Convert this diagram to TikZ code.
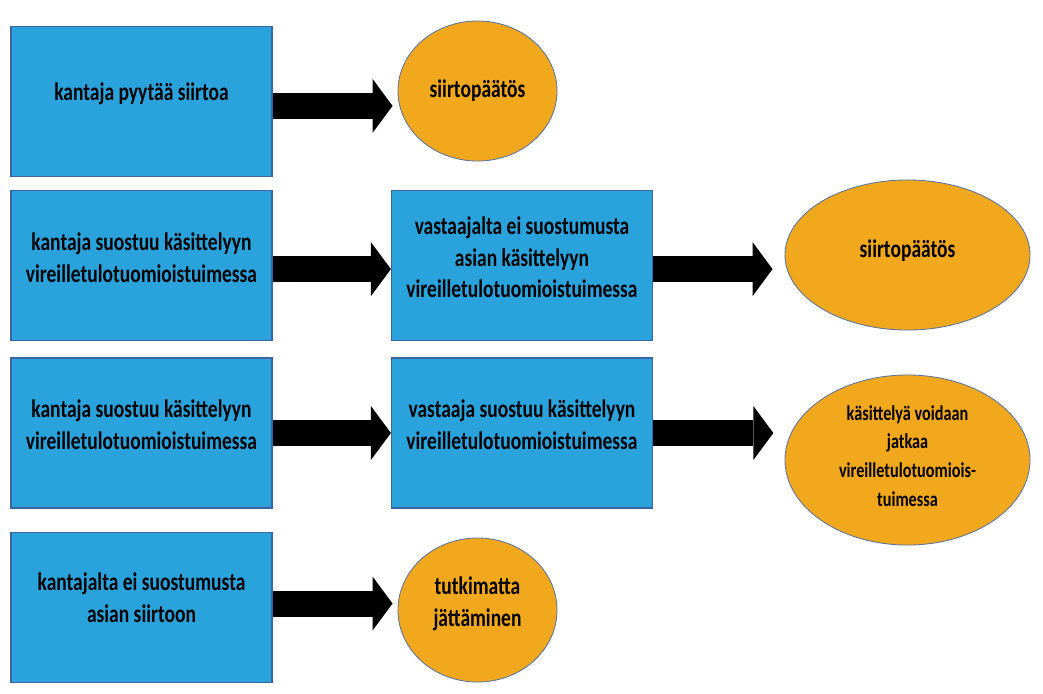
\documentclass[tikz,border=0pt]{standalone}
\usepackage{fontspec}
\newfontfamily\cf{Carlito}[FakeStretch=0.77]
\usetikzlibrary{shapes.geometric,arrows.meta}
\definecolor{boxblue}{RGB}{42,163,220}
\definecolor{boxborder}{RGB}{60,100,160}
\definecolor{ellorange}{RGB}{242,168,28}
\definecolor{ellborder}{RGB}{90,115,160}
\begin{document}
\begin{tikzpicture}[x=0.025cm,y=-0.025cm,
  blk/.style={draw=boxborder, line width=0.8pt, fill=boxblue, minimum width=6.525cm, minimum height=3.75cm, inner sep=0pt},
  ell/.style={ellipse, draw=ellborder, line width=0.6pt, fill=ellorange, inner sep=0pt},
  txt/.style={align=center, font=\cf\bfseries\fontsize{18}{22.5}\selectfont, text=black},
  stxt/.style={align=center, font=\cf\bfseries\fontsize{15}{20.5}\selectfont, text=black},
  conn/.style={line width=0.65cm, -{Triangle[length=0.5cm, width=1.35cm, line width=0pt]}}
]
\useasboundingbox (0,0) rectangle (1043,693);
% row 1
\node[blk] (b1) at (141.5,101.5) {};
\node[ell, minimum width=3.975cm, minimum height=3.5cm] (e1) at (477.5,91) {};
% row 2
\node[blk] (b2) at (141.5,265.5) {};
\node[blk] (m2) at (522,265.5) {};
\node[ell, minimum width=6.125cm, minimum height=3.75cm] (e2) at (907.5,255) {};
% row 3
\node[blk] (b3) at (141.5,433) {};
\node[blk] (m3) at (522,433) {};
\node[ell, minimum width=6.125cm, minimum height=4.25cm] (e3) at (907.5,460) {};
% row 4
\node[blk] (b4) at (141.5,607.5) {};
\node[ell, minimum width=3.975cm, minimum height=3.6cm] (e4) at (477.5,610) {};
% texts
\node[txt] (tb1) at ([yshift=0.2cm]b1.center) {kantaja pyytää siirtoa};
\node[txt] (te1) at (e1.center) {siirtopäätös};
\node[txt] (tb2) at ([yshift=0.2cm]b2.center) {kantaja suostuu käsittelyyn\\vireilletulotuomioistuimessa};
\node[txt] (tm2) at ([yshift=0.2cm]m2.center) {vastaajalta ei suostumusta\\asian käsittelyyn\\vireilletulotuomioistuimessa};
\node[txt] (te2) at ([yshift=0.1cm]e2.center) {siirtopäätös};
\node[txt] (tb3) at ([yshift=0.2cm]b3.center) {kantaja suostuu käsittelyyn\\vireilletulotuomioistuimessa};
\node[txt] (tm3) at ([yshift=0.2cm]m3.center) {vastaaja suostuu käsittelyyn\\vireilletulotuomioistuimessa};
\node[stxt] (te3) at ([yshift=0.1cm]e3.center) {käsittelyä voidaan\\jatkaa\\vireilletulotuomiois-\\tuimessa};
\node[txt] (tb4) at ([yshift=0.25cm]b4.center) {kantajalta ei suostumusta\\asian siirtoon};
\node[txt] (te4) at ([yshift=0.15cm]e4.center) {tutkimatta\\jättäminen};
% connectors
\draw[conn, shorten >=0.125cm] ([yshift=-0.11cm]b1.east) -- ([yshift=-0.11cm]b1.east -| e1.west);
\draw[conn] ([yshift=-0.09cm]b2.east) -- ([yshift=-0.09cm]m2.west);
\draw[conn, shorten >=0.3cm] ([yshift=-0.09cm]m2.east) -- ([yshift=-0.09cm]m2.east -| e2.west);
\draw[conn] (b3.east) -- (m3.west);
\draw[conn, shorten >=0.28cm] (m3.east) -- (m3.east -| e3.west);
\draw[conn, shorten >=0.125cm] ([yshift=0.1cm]b4.east) -- ([yshift=0.1cm]b4.east -| e4.west);
\end{tikzpicture}
\end{document}
